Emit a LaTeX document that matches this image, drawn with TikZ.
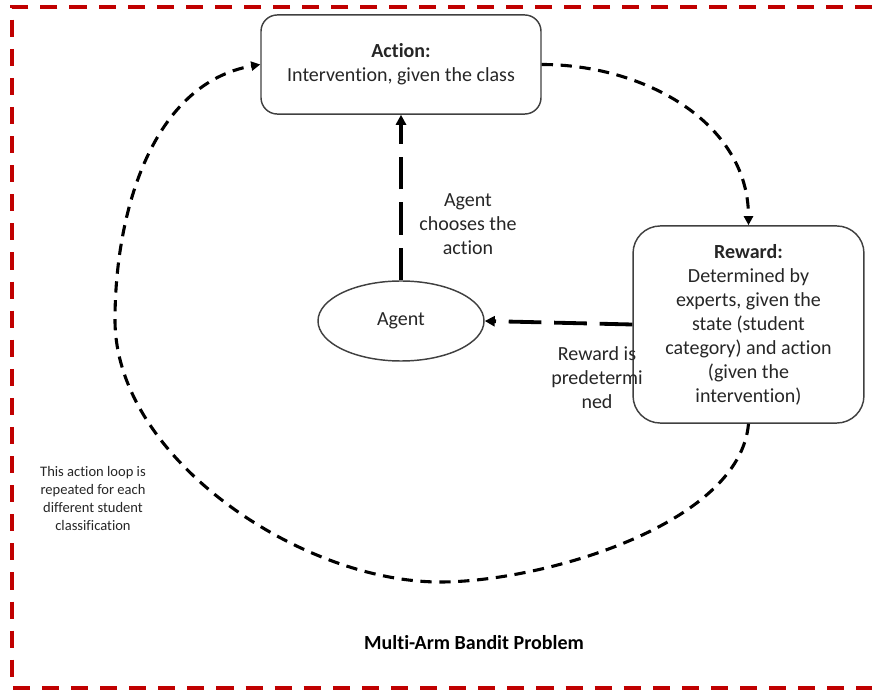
\documentclass[tikz,border=0pt]{standalone}
\usepackage{fontspec}
\setmainfont{Carlito}[Ligatures=CommonOff]
\usetikzlibrary{arrows.meta,shapes.geometric}
\definecolor{framered}{HTML}{C00000}

\begin{document}
\begin{tikzpicture}[
        x=0.55pt, y=0.55pt,
        every node/.style={font=\fontsize{11}{13.2}\selectfont, text=black!85, align=center},
        box/.style={draw=black!75, line width=0.8pt, rounded corners=9pt, inner sep=0pt},
        agentshape/.style={draw=black!75, line width=0.8pt, ellipse, minimum width=91.3pt, minimum height=44pt, inner sep=0pt},
        note/.style={inner sep=1pt},
        bigdash/.style={line width=2.1pt, dash pattern=on 18pt off 7pt, -{Triangle[length=5.5pt,width=5.5pt]}},
        loopdash/.style={line width=1.7pt, dash pattern=on 6.2pt off 4.2pt, -{Triangle[length=5pt,width=5pt]}},
        frame/.style={draw=framered, line width=2.2pt, dash pattern=on 9.4pt off 6.6pt},
    ]
        \useasboundingbox (0,0) rectangle (872,-690);

        % Frame (right side runs off the page)
        \draw[frame] (872,-7) -- (12,-7) -- (12,-688) -- (872,-688);

        % Define Main Nodes
        \node[box, minimum width=154pt, minimum height=54.5pt] (action) at (401,-64.5) {\textbf{Action:}\\Intervention, given the class};
        \node[agentshape] (agent) at (401,-321) {\raisebox{-1.5pt}{Agent}};
        \node[box, rounded corners=15pt, minimum width=127pt, minimum height=108.4pt] (reward) at (748.5,-324.5) {\textbf{Reward:}\\Determined by\\experts, given the\\state (student\\category) and action\\(given the\\intervention)};

        % Define Labels
        \node[note] (chooses) at (468,-224) {Agent\\chooses the\\action};
        \node[note] (predet) at (597,-378) {Reward is\\predetermi\\ned};
        \node[note, font=\fontsize{8}{9.9}\selectfont] (loopnote) at (93,-499) {This action loop is\\repeated for each\\different student\\classification};
        \node[note, font=\fontsize{11}{13.2}\selectfont\bfseries, text=black] (title) at (474,-643) {Multi-Arm Bandit Problem};

        % Points the outer loop passes through
        \coordinate (loopbot) at (440,-582);
        \coordinate (loopleft) at (115,-320);

        % Draw Edges
        \draw[bigdash] (agent.north) -- (action.south);
        \draw[bigdash] (reward.west) -- (agent.east);
        \draw[loopdash] (action.east) to[out=0, in=90] (reward.north);
        \draw[loopdash] (reward.south) to[out=-95, in=0, looseness=0.75] (loopbot)
            to[out=180, in=-90, looseness=0.85] (loopleft)
            to[out=90, in=190, looseness=0.95] (action.west);
    \end{tikzpicture}
\end{document}
